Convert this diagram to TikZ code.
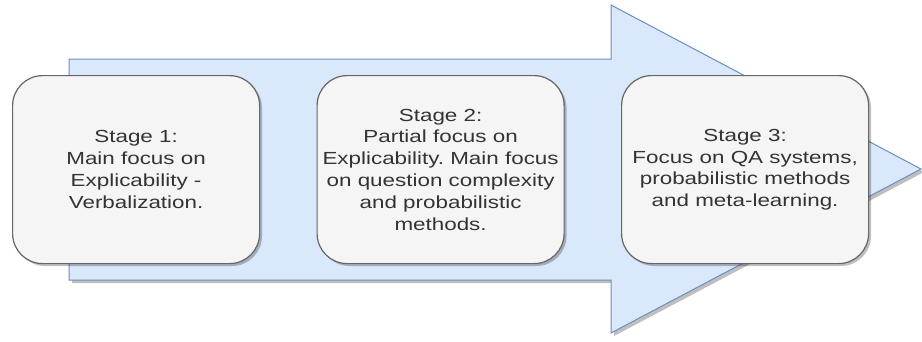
\documentclass[tikz,border=0pt]{standalone}
\usepackage{fontspec}
\setmainfont{Liberation Sans}
\newfontfamily\stagefont[FakeStretch=1.28]{Liberation Sans}
\frenchspacing
\definecolor{arrowfill}{HTML}{DAE8FC}
\definecolor{arrowline}{HTML}{6C8EBF}
\definecolor{boxfill}{HTML}{F5F5F5}
\definecolor{boxline}{HTML}{666666}
\definecolor{txt}{HTML}{333333}
\tikzset{
  stagebox/.style={draw=boxline, fill=boxfill, line width=1.2pt, rounded corners=30pt,
    minimum width=247pt, minimum height=188pt, inner sep=0pt, anchor=north west,
    text=txt, align=center, font=\stagefont\fontsize{17.5}{21.8}\selectfont},
  shade/.style={fill=black, fill opacity=0.25, draw=none},
  bigarrow/.style={draw=arrowline, fill=arrowfill, line width=1pt, line join=miter}
}
\begin{document}
\begin{tikzpicture}[x=1pt, y=-1pt]
\useasboundingbox (0,0) rectangle (922,341);
% arrow shadow
\fill[shade] (72,62) -- (614,62) -- (614,8) -- (924,172) -- (614,336) -- (614,283) -- (72,283) -- cycle;
% arrow
\draw[bigarrow] (69,59) -- (611,59) -- (611,5) -- (921,169) -- (611,333) -- (611,280) -- (69,280) -- cycle;
% box shadows
\foreach \x in {12,316.5,621}{
  \fill[shade, rounded corners=30pt] (\x+3,78) rectangle ++(247,188);
}
\node[stagebox] (s1) at (12,75) {Stage 1:\\Main focus on\\Explicability -\\Verbalization.};
\node[stagebox] (s2) at (316.5,75) {Stage 2:\\Partial focus on\\Explicability. Main focus\\on question complexity\\and probabilistic\\methods.};
\node[stagebox] (s3) at (621,75) {Stage 3:\\Focus on QA systems,\\probabilistic methods\\and meta-learning.};
\end{tikzpicture}
\end{document}
